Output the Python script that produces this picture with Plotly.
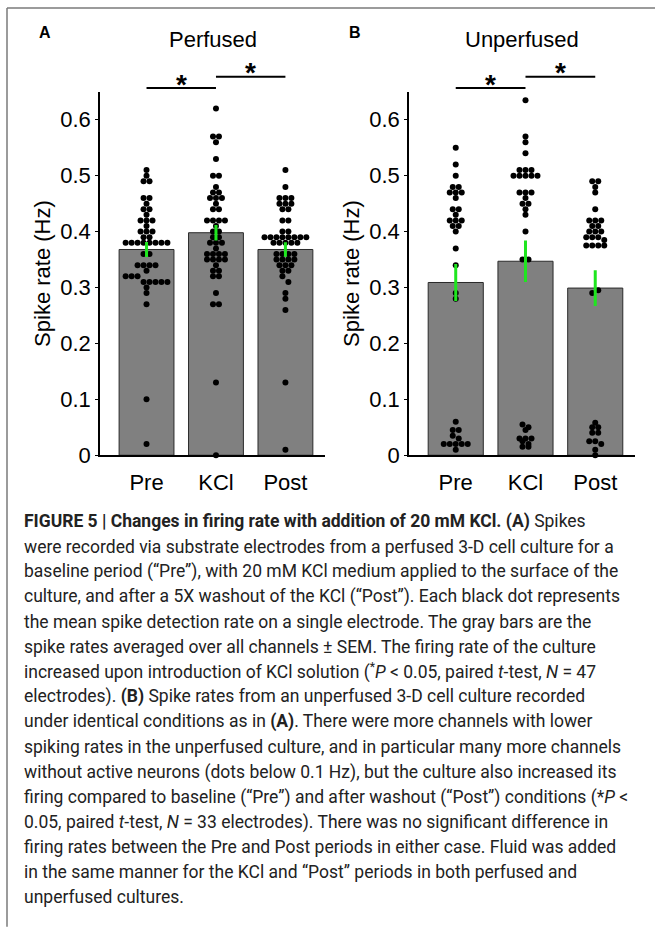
import numpy as np
import plotly.graph_objects as go

W, H = 655, 928

categories = ["Pre", "KCl", "Post"]

# Panel A (perfused) per-electrode spike rates (Hz)
a_pre = [0.51, 0.50, 0.49, 0.49, 0.46, 0.46, 0.45, 0.44, 0.44, 0.43, 0.42, 0.42, 0.42, 0.41,
         0.40, 0.40, 0.40, 0.39, 0.39, 0.38, 0.38, 0.38, 0.38, 0.38, 0.38, 0.38, 0.38,
         0.36, 0.36, 0.34, 0.34, 0.34, 0.34, 0.33, 0.32, 0.32, 0.32,
         0.31, 0.31, 0.31, 0.31, 0.31, 0.30, 0.29, 0.27, 0.10, 0.02]
a_kcl = [0.62, 0.57, 0.57, 0.56, 0.53, 0.50, 0.50, 0.48, 0.47, 0.47, 0.46, 0.46, 0.46, 0.45,
         0.44, 0.44, 0.42, 0.42, 0.42, 0.42, 0.41, 0.40, 0.40, 0.39, 0.39, 0.38, 0.38, 0.38,
         0.37, 0.36, 0.36, 0.36, 0.36, 0.35, 0.35, 0.35, 0.35, 0.34, 0.33, 0.33, 0.32, 0.32,
         0.29, 0.27, 0.27, 0.13, 0.00]
a_post = [0.51, 0.48, 0.46, 0.46, 0.46, 0.45, 0.45, 0.45, 0.44, 0.44, 0.42, 0.42, 0.40, 0.40,
          0.39, 0.39, 0.39, 0.39, 0.39, 0.39, 0.39, 0.39, 0.38, 0.38, 0.38, 0.38, 0.38,
          0.36, 0.36, 0.36, 0.36, 0.35, 0.35, 0.35, 0.35, 0.34, 0.34, 0.34, 0.33, 0.33,
          0.32, 0.31, 0.29, 0.28, 0.26, 0.13, 0.01]
a_mean = [0.368, 0.398, 0.368]
a_sem = [0.0135, 0.014, 0.013]

# Panel B (unperfused)
b_pre = [0.55, 0.52, 0.50, 0.48, 0.48, 0.47, 0.47, 0.47, 0.46, 0.44, 0.44, 0.43, 0.42, 0.42,
         0.42, 0.41, 0.41, 0.40, 0.37, 0.34, 0.29, 0.28,
         0.06, 0.045, 0.045, 0.035, 0.03, 0.02, 0.02, 0.02, 0.02, 0.01, 0.02]
b_kcl = [0.635, 0.57, 0.56, 0.54, 0.51, 0.51, 0.51, 0.50, 0.50, 0.50, 0.50, 0.50, 0.47, 0.47,
         0.47, 0.46, 0.45, 0.45, 0.44, 0.43, 0.40, 0.35, 0.35,
         0.055, 0.05, 0.045, 0.03, 0.03, 0.03, 0.025, 0.02, 0.015, 0.015]
b_post = [0.49, 0.49, 0.48, 0.47, 0.44, 0.42, 0.42, 0.42, 0.41, 0.41, 0.40, 0.40, 0.40, 0.39,
          0.39, 0.39, 0.385, 0.375, 0.375, 0.375, 0.375, 0.29, 0.295,
          0.058, 0.05, 0.05, 0.04, 0.04, 0.025, 0.025, 0.02, 0.01, 0.0]
b_mean = [0.309, 0.347, 0.299]
b_sem = [0.033, 0.037, 0.032]

titles = ["Perfused", "Unperfused"]
panel_labels = ["A", "B"]
y_ticks = [0, 0.1, 0.2, 0.3, 0.4, 0.5, 0.6]
y_ticktext = ["0", "0.1", "0.2", "0.3", "0.4", "0.5", "0.6"]

caption_lines = [
    "<b>FIGURE 5 | Changes in firing rate with addition of 20 mM KCl. (A)</b> Spikes",
    "were recorded via substrate electrodes from a perfused 3-D cell culture for a",
    "baseline period (\u201cPre\u201d), with 20 mM KCl medium applied to the surface of the",
    "culture, and after a 5X washout of the KCl (\u201cPost\u201d). Each black dot represents",
    "the mean spike detection rate on a single electrode. The gray bars are the",
    "spike rates averaged over all channels \u00b1 SEM. The firing rate of the culture",
    "increased upon introduction of KCl solution (<sup>*</sup><i>P</i> &lt; 0.05, paired <i>t</i>-test, <i>N</i> = 47",
    "electrodes). <b>(B)</b> Spike rates from an unperfused 3-D cell culture recorded",
    "under identical conditions as in <b>(A)</b>. There were more channels with lower",
    "spiking rates in the unperfused culture, and in particular many more channels",
    "without active neurons (dots below 0.1 Hz), but the culture also increased its",
    "firing compared to baseline (\u201cPre\u201d) and after washout (\u201cPost\u201d) conditions (*<i>P</i> &lt;",
    "0.05, paired <i>t</i>-test, <i>N</i> = 33 electrodes). There was no significant difference in",
    "firing rates between the Pre and Post periods in either case. Fluid was added",
    "in the same manner for the KCl and \u201cPost\u201d periods in both perfused and",
    "unperfused cultures.",
]

XR = [0.33, 3.57]
YR = [0, 0.65]
xpos = [1, 2, 3]


def px_x(p):
    return p / W


def px_y(p):
    return 1 - p / H


def xd(v):
    return (v - XR[0]) / (XR[1] - XR[0])


def yd(v):
    return (v - YR[0]) / (YR[1] - YR[0])


def swarm(vals, xc, step=0.0105, d=0.086):
    v = np.asarray(vals, dtype=float)
    keys = np.round(v / step).astype(int)
    xs = np.zeros(len(v))
    for k in np.unique(keys):
        idx = np.where(keys == k)[0]
        n = len(idx)
        xs[idx] = xc + (np.arange(n) - (n - 1) / 2) * d
    return xs


fig = go.Figure()
FONT = "Liberation Sans, Arial, sans-serif"

panels = [
    dict(series=[a_pre, a_kcl, a_post], mean=a_mean, sem=a_sem, dom=[100, 325]),
    dict(series=[b_pre, b_kcl, b_post], mean=b_mean, sem=b_sem, dom=[409, 635]),
]

y_zero_px = 461.7
px_per_unit = 567.0

for i, p in enumerate(panels):
    sfx = "" if i == 0 else "2"
    xa, ya = "x" + sfx, "y" + sfx
    fig.add_trace(go.Bar(x=xpos, y=p["mean"], width=0.79, xaxis=xa, yaxis=ya,
                         marker=dict(color="#808080", line=dict(color="#2a2a2a", width=1)),
                         showlegend=False))
    for j, s in enumerate(p["series"]):
        fig.add_trace(go.Scatter(x=swarm(s, xpos[j]), y=s, mode="markers",
                                 xaxis=xa, yaxis=ya, cliponaxis=False,
                                 marker=dict(color="black", size=6), showlegend=False))
    fig.add_trace(go.Scatter(x=xpos, y=p["mean"], mode="markers", xaxis=xa, yaxis=ya,
                             marker=dict(size=1, opacity=0), showlegend=False,
                             error_y=dict(type="data", array=p["sem"], visible=True,
                                          color="#1fe61f", thickness=3, width=0)))

    dom = [px_x(p["dom"][0]), px_x(p["dom"][1])]
    ydom = [px_y(y_zero_px), px_y(y_zero_px - YR[1] * px_per_unit)]
    fig.layout["xaxis" + sfx] = dict(domain=dom, range=XR, tickvals=xpos, ticktext=categories,
                                     showline=True, linecolor="black", linewidth=1.5,
                                     ticks="", showgrid=False, zeroline=False,
                                     tickfont=dict(family=FONT, size=22, color="black"),
                                     ticklabelstandoff=7,
                                     anchor=ya, fixedrange=True)
    fig.layout["yaxis" + sfx] = dict(domain=ydom, range=YR, tickvals=y_ticks, ticktext=y_ticktext,
                                     showline=True, linecolor="black", linewidth=1.5,
                                     ticks="outside", ticklen=3, tickcolor="black",
                                     showgrid=False, zeroline=False,
                                     tickfont=dict(family=FONT, size=22, color="black"),
                                     title=dict(text="Spike rate (Hz)", standoff=4,
                                                font=dict(family=FONT, size=22, color="black")),
                                     anchor=xa, fixedrange=True)

    # titles and panel labels
    fig.add_annotation(text=titles[i], xref=xa + " domain", x=0.5, yref="paper",
                       y=px_y(40), xanchor="center", yanchor="middle", showarrow=False,
                       font=dict(family=FONT, size=22, color="black"))
    lab_x = 37 if i == 0 else 347
    fig.add_annotation(text="<b>" + panel_labels[i] + "</b>", xref="paper", x=px_x(lab_x),
                       yref="paper", y=px_y(33), xanchor="left", yanchor="middle",
                       showarrow=False, font=dict(family=FONT, size=16, color="black"))

    # significance bars with stars
    for (x0, x1, yv) in [(1, 2, 0.657), (2, 3, 0.677)]:
        fig.add_shape(type="line", xref=xa + " domain", yref=ya + " domain",
                      x0=xd(x0), x1=xd(x1), y0=yd(yv), y1=yd(yv),
                      line=dict(color="black", width=2))
        fig.add_annotation(text="<b>*</b>", xref=xa + " domain", yref=ya + " domain",
                           x=xd((x0 + x1) / 2), y=yd(yv + 0.007), xanchor="center",
                           yanchor="middle", showarrow=False,
                           font=dict(family=FONT, size=28, color="black"))

# caption
for k, line in enumerate(caption_lines):
    fig.add_annotation(text=line, xref="paper", yref="paper", x=px_x(22), y=px_y(529 + k * 25.4),
                       xanchor="left", yanchor="middle", showarrow=False, align="left",
                       font=dict(family="Roboto, sans-serif", size=17.5, color="#222222"))

# frame
fig.add_shape(type="line", xref="paper", yref="paper", x0=px_x(7), x1=px_x(7),
              y0=px_y(8), y1=px_y(940), line=dict(color="#7a7a7a", width=1.5))
fig.add_shape(type="line", xref="paper", yref="paper", x0=px_x(7), x1=px_x(660),
              y0=px_y(8), y1=px_y(8), line=dict(color="#7a7a7a", width=1.5))

fig.update_layout(width=W, height=H, margin=dict(l=0, r=0, t=0, b=0),
                  paper_bgcolor="white", plot_bgcolor="white", bargap=0.2,
                  font=dict(family=FONT))

fig.write_html("out.html")
